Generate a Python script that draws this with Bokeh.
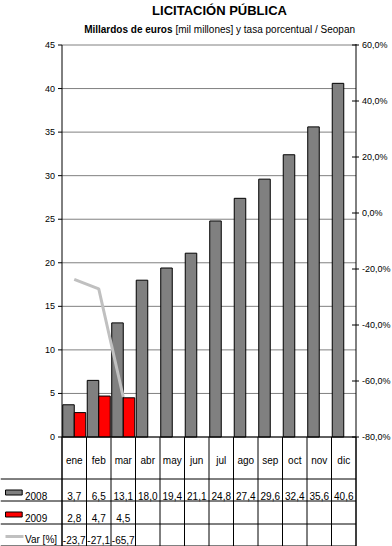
from bokeh.plotting import figure
from bokeh.models import Range1d, ColumnDataSource
from bokeh.transform import dodge
from bokeh.core.properties import value
from bokeh.embed import file_html
from bokeh.resources import INLINE

# ---------------- data ----------------
months = ["ene", "feb", "mar", "abr", "may", "jun", "jul", "ago", "sep", "oct", "nov", "dic"]
v2008 = [3.7, 6.5, 13.1, 18.0, 19.4, 21.1, 24.8, 27.4, 29.6, 32.4, 35.6, 40.6]
v2009 = [2.8, 4.7, 4.5]
var_pct = [-23.7, -27.1, -65.7]
left_ticks = [0, 5, 10, 15, 20, 25, 30, 35, 40, 45]
right_ticks = [-80, -60, -40, -20, 0, 20, 40, 60]
right_tick_labels = ["-80,0%", "-60,0%", "-40,0%", "-20,0%", "0,0%", "20,0%", "40,0%", "60,0%"]
series_names = ["2008", "2009", "Var [%]"]
title_text = "LICITACIÓN PÚBLICA"
subtitle_bold = "Millardos de euros"
subtitle_rest = "[mil millones] y tasa porcentual / Seopan"

# ---------------- layout / style ----------------
FONT = "Liberation Sans"
GRAY = "#808080"
RED = "#FF0000"
LINE = "#C0C0C0"
W, H = 392, 546
n = len(months)
PLOT_L, PLOT_R = 61.5, 355.5          # page x of the value axes
Y_BOT, Y_TOP = 436.5, 44.5            # page y of the plot area bottom / top
COLW = (PLOT_R - PLOT_L) / n
L_MIN, L_MAX = left_ticks[0], left_ticks[-1]
R_MIN, R_MAX = right_ticks[0], right_ticks[-1]


def tx(px):
    """page x -> category units"""
    return (px - PLOT_L) / COLW


def lin(px, lo, hi):
    """page y -> value on an axis running lo (Y_BOT) .. hi (Y_TOP)"""
    return lo + (Y_BOT - px) / (Y_BOT - Y_TOP) * (hi - lo)


def fmt(v):
    return ("%.1f" % v).replace(".", ",")


p = figure(width=W, height=H,
           x_range=Range1d(tx(0), tx(W)),
           y_range=Range1d(lin(H, L_MIN, L_MAX), lin(0, L_MIN, L_MAX)),
           output_backend="svg", toolbar_location=None,
           min_border_left=0, min_border_right=0, min_border_top=0, min_border_bottom=0,
           styles={"position": "absolute", "left": "0px", "top": "0px"})
p.axis.visible = False
p.grid.visible = False
p.outline_line_color = None
p.background_fill_color = "white"
p.border_fill_color = "white"
p.extra_y_ranges = {"pct": Range1d(lin(H, R_MIN, R_MAX), lin(0, R_MIN, R_MAX)),
                    "px": Range1d(H, 0)}

xc = [i + 0.5 for i in range(n)]

# ---- horizontal grid (left-axis ticks) ----
p.segment(x0=[0] * len(left_ticks), x1=[n] * len(left_ticks), y0=left_ticks, y1=left_ticks,
          line_color=GRAY, line_width=1)

# ---- bars and line ----
src08 = ColumnDataSource(dict(x=xc, m=months, v=v2008))
src09 = ColumnDataSource(dict(x=xc[:len(v2009)], m=months[:len(v2009)], v=v2009))
srcv = ColumnDataSource(dict(x=xc[:len(var_pct)], m=months[:len(var_pct)], v=var_pct))
p.vbar(x=dodge("x", -0.235), top="v", bottom=0, width=0.47, source=src08,
       fill_color=GRAY, line_color="black", line_width=1)
p.vbar(x=dodge("x", 0.235), top="v", bottom=0, width=0.47, source=src09,
       fill_color=RED, line_color="black", line_width=1)
p.line(x="x", y="v", source=srcv, y_range_name="pct", line_color=LINE, line_width=3)

# ---- left value axis ----
p.segment(x0=[0], x1=[0], y0=[Y_TOP], y1=[545.5], y_range_name="px", line_color="black", line_width=1)
p.segment(x0=[tx(57.5)] * len(left_ticks), x1=[0] * len(left_ticks), y0=left_ticks, y1=left_ticks,
          line_color="black", line_width=1)
p.text(x=[tx(54.5)] * len(left_ticks), y=left_ticks, text=[str(t) for t in left_ticks],
       text_font=value(FONT), text_font_size="9px", text_align="right", text_baseline="middle",
       text_color="black")

# ---- right percentage axis ----
p.segment(x0=[n], x1=[n], y0=[Y_TOP - 1], y1=[545.5], y_range_name="px", line_color="black", line_width=1)
p.segment(x0=[tx(PLOT_R - 4)] * len(right_ticks), x1=[tx(PLOT_R + 3)] * len(right_ticks),
          y0=right_ticks, y1=right_ticks, y_range_name="pct", line_color="black", line_width=1)
p.text(x=[tx(PLOT_R + 6)] * len(right_ticks), y=right_ticks, text=right_tick_labels,
       y_range_name="pct", text_font=value(FONT), text_font_size="9px", text_align="left",
       text_baseline="middle", text_color="black")

# ---- category axis line ----
p.segment(x0=[0], x1=[n], y0=[0], y1=[0], line_color="black", line_width=1)

# ---- data table ----
row_lines = [478.5, 500.5, 523.5, 545.5]
p.segment(x0=[tx(0)] * len(row_lines), x1=[n] * len(row_lines), y0=row_lines, y1=row_lines,
          y_range_name="px", line_color="black", line_width=1)
p.segment(x0=list(range(n + 1)), x1=list(range(n + 1)), y0=[Y_BOT] * (n + 1), y1=[545.5] * (n + 1),
          y_range_name="px", line_color="black", line_width=1)

TS = "10px"
p.text(x=xc, y=[460] * n, text=months, y_range_name="px", text_font=value(FONT), text_font_size=TS,
       text_align="center", text_baseline="alphabetic", text_color="black")
p.text(x=xc, y=[495.5] * n, text=[fmt(v) for v in v2008], y_range_name="px", text_font=value(FONT),
       text_font_size=TS, text_align="center", text_baseline="alphabetic", text_color="black")
p.text(x=xc[:len(v2009)], y=[517.5] * len(v2009), text=[fmt(v) for v in v2009], y_range_name="px",
       text_font=value(FONT), text_font_size=TS, text_align="center", text_baseline="alphabetic",
       text_color="black")
p.text(x=xc[:len(var_pct)], y=[539] * len(var_pct), text=[fmt(v) for v in var_pct], y_range_name="px",
       text_font=value(FONT), text_font_size=TS, text_align="center", text_baseline="alphabetic",
       text_color="black")

# legend keys in the table's first column
p.quad(left=[tx(5)], right=[tx(21.7)], top=[489.5], bottom=[494.5], y_range_name="px",
       fill_color=GRAY, line_color="black")
p.quad(left=[tx(5)], right=[tx(21.7)], top=[511.5], bottom=[516.5], y_range_name="px",
       fill_color=RED, line_color="black")
p.segment(x0=[tx(5)], x1=[tx(23)], y0=[536], y1=[536], y_range_name="px", line_color=LINE, line_width=3)
p.text(x=[tx(24.5)] * 3, y=[495.5, 517.5, 539], text=series_names, y_range_name="px",
       text_font=value(FONT), text_font_size=TS, text_align="left", text_baseline="alphabetic",
       text_color="black")

# ---- titles ----
p.text(x=[tx(219)], y=[10], text=[title_text], y_range_name="px", text_font=value(FONT),
       text_font_style="bold", text_font_size="13px", text_align="center", text_baseline="middle",
       text_color="black")
p.text(x=[tx(172)], y=[29], text=[subtitle_bold], y_range_name="px", text_font=value(FONT),
       text_font_style="bold", text_font_size="10px", text_align="right", text_baseline="middle",
       text_color="black")
p.text(x=[tx(175)], y=[29], text=[subtitle_rest], y_range_name="px", text_font=value(FONT),
       text_font_size="10px", text_align="left", text_baseline="middle", text_color="black")

open("out.html", "w").write(file_html(p, INLINE))
